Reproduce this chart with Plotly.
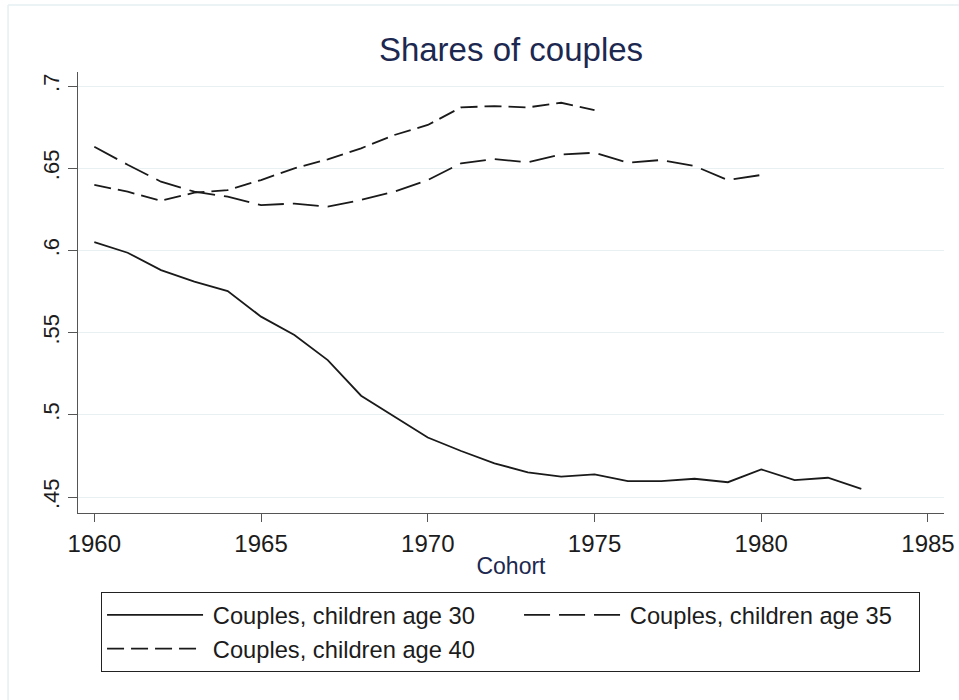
import plotly.graph_objects as go

# Data
cohort_30 = list(range(1960, 1984))
share_30 = [0.605, 0.5986, 0.588, 0.581, 0.5753, 0.5597, 0.5485, 0.5333, 0.5116, 0.4989,
            0.4862, 0.478, 0.4705, 0.465, 0.4624, 0.4638, 0.4597, 0.4597, 0.4611, 0.459,
            0.4668, 0.4603, 0.4617, 0.4549]
cohort_35 = list(range(1960, 1981))
share_35 = [0.663, 0.6521, 0.6418, 0.6357, 0.6327, 0.6276, 0.6285, 0.6266, 0.6307, 0.6357,
            0.6428, 0.653, 0.6556, 0.6536, 0.6584, 0.6594, 0.6533, 0.655, 0.6513, 0.6428,
            0.6459]
cohort_40 = list(range(1960, 1976))
share_40 = [0.6398, 0.6357, 0.6302, 0.6351, 0.6367, 0.6428, 0.6499, 0.6554, 0.6621, 0.6702,
            0.6763, 0.687, 0.6878, 0.687, 0.6898, 0.6854]

series_names = ["Couples, children age 30", "Couples, children age 35", "Couples, children age 40"]
x_ticks = [1960, 1965, 1970, 1975, 1980, 1985]
y_ticks = [0.45, 0.5, 0.55, 0.6, 0.65, 0.7]
y_tick_labels = [".45", ".5", ".55", ".6", ".65", ".7"]

LINE = "#1a1a1a"
FONT = "Arial, Liberation Sans, sans-serif"

# horizontal compensation for the observed render scale
K = 959 / 951
W, H = 967, 700
L = round(77 * K, 1)
R = round(W - 943 * K, 1)
T, B = 72, 187
pw, ph = W - L - R, H - T - B

ITEMW = 96
ENTRYW = round(415 * K) - (ITEMW + 10) - 1 - 5

fig = go.Figure()
fig.add_trace(go.Scatter(x=cohort_30, y=share_30, mode="lines", name="\u2009" + series_names[0],
                         line=dict(color=LINE, width=1.8)))
fig.add_trace(go.Scatter(x=cohort_35, y=share_35, mode="lines", name="\u2009" + series_names[1],
                         line=dict(color=LINE, width=1.8, dash="26px,9px"),
                         legendwidth=ENTRYW - 17))
fig.add_trace(go.Scatter(x=cohort_40, y=share_40, mode="lines", name="\u2009" + series_names[2],
                         line=dict(color=LINE, width=1.8, dash="17px,7px")))


def px_x(p):
    return (p * K - L) / pw

def px_y(p):
    return 1 - (p - T) / ph

fig.update_layout(
    width=W, height=H, autosize=False,
    margin=dict(l=L, r=R, t=T, b=B),
    paper_bgcolor="white", plot_bgcolor="white",
    font=dict(family=FONT, color="#1c1c1c"),
    title=dict(text="Shares of couples", x=0.5, xref="paper", xanchor="center",
               y=1 - 49 / H, yref="container", yanchor="middle",
               font=dict(size=33, color="#1c2850", family=FONT)),
    xaxis=dict(range=[1959.511, 1985.48], tickvals=x_ticks, ticks="outside", ticklen=8,
               tickcolor="#555", tickwidth=1.3, showline=True, linecolor="#555", linewidth=1.3,
               showgrid=False, zeroline=False, tickfont=dict(size=24, color="#1c1c1c"),
               ticklabelstandoff=1,
               title=dict(text="Cohort", font=dict(size=23, color="#1c2850"), standoff=1)),
    yaxis=dict(range=[0.44027, 0.70852], tickvals=y_ticks, ticktext=y_tick_labels,
               ticks="outside", ticklen=9, tickcolor="#555", tickwidth=1.3, tickangle=-90,
               showline=True, linecolor="#555", linewidth=1.3,
               showgrid=True, gridcolor="#e8f0f2", gridwidth=1.2, zeroline=False,
               tickfont=dict(size=22, color="#1c1c1c")),
    legend=dict(orientation="h", x=px_x(100), y=px_y(592), xanchor="left", yanchor="top",
                bordercolor="#222", borderwidth=1, bgcolor="white",
                font=dict(size=23.7, color="#1c1c1c", family=FONT),
                itemwidth=ITEMW, entrywidth=ENTRYW,
                entrywidthmode="pixels", traceorder="normal"),
    shapes=[
        dict(type="line", xref="paper", yref="paper", x0=px_x(7), x1=px_x(959),
             y0=px_y(5), y1=px_y(5), line=dict(color="#e6eff1", width=1.5), layer="below"),
        dict(type="line", xref="paper", yref="paper", x0=px_x(7), x1=px_x(7),
             y0=px_y(5), y1=px_y(700), line=dict(color="#e6eff1", width=1.5), layer="below"),
    ],
    showlegend=True,
)

fig.write_html(
    "out.html",
    config={"responsive": False, "displayModeBar": False},
    post_script="document.body.style.margin='0';document.body.style.overflow='hidden';",
)
